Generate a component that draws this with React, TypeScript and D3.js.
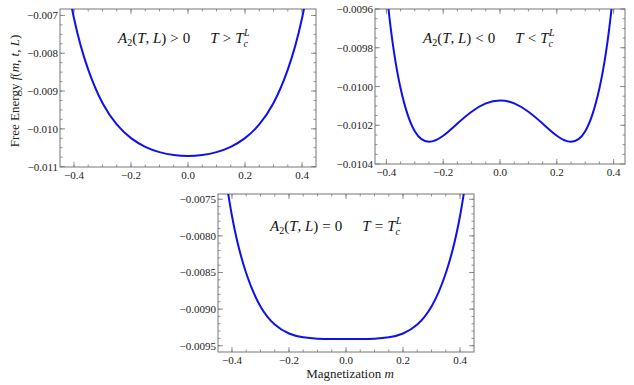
import React from 'react';
import * as d3 from 'd3';

// magnetization sample points
const mValues = [-0.45, -0.4, -0.35, -0.3, -0.25, -0.2, -0.15, -0.1, -0.05, 0, 0.05, 0.1, 0.15, 0.2, 0.25, 0.3, 0.35, 0.4, 0.45];
// free energy, A2 > 0 (T > Tc)
const fAbove = [-0.005002, -0.007076, -0.008436, -0.009318, -0.009884, -0.010247, -0.010476, -0.010616, -0.010692, -0.010716, -0.010692, -0.010616, -0.010476, -0.010247, -0.009884, -0.009318, -0.008436, -0.007076, -0.005002];
// free energy, A2 < 0 (T < Tc)
const fBelow = [-0.008496, -0.009491, -0.010009, -0.010231, -0.010285, -0.010254, -0.010191, -0.01013, -0.010087, -0.010072, -0.010087, -0.01013, -0.010191, -0.010254, -0.010285, -0.010231, -0.010009, -0.009491, -0.008496];
// free energy, A2 = 0 (T = Tc)
const fCritical = [-0.006449, -0.007728, -0.00851, -0.008964, -0.00921, -0.009333, -0.009386, -0.009404, -0.009408, -0.009408, -0.009408, -0.009404, -0.009386, -0.009333, -0.00921, -0.008964, -0.00851, -0.007728, -0.006449];

const xTicks = [-0.4, -0.2, 0, 0.2, 0.4];
const xTickLabels = ['\u22120.4', '\u22120.2', '0.0', '0.2', '0.4'];
const yTicks1 = [-0.011, -0.01, -0.009, -0.008, -0.007];
const yTickLabels1 = ['\u22120.011', '\u22120.010', '\u22120.009', '\u22120.008', '\u22120.007'];
const yTicks2 = [-0.0104, -0.0102, -0.01, -0.0098, -0.0096];
const yTickLabels2 = ['\u22120.0104', '\u22120.0102', '\u22120.0100', '\u22120.0098', '\u22120.0096'];
const yTicks3 = [-0.0095, -0.009, -0.0085, -0.008, -0.0075];
const yTickLabels3 = ['\u22120.0095', '\u22120.0090', '\u22120.0085', '\u22120.0080', '\u22120.0075'];

const SERIF = "'Liberation Serif', 'Times New Roman', serif";
const FRAME = '#777';

type PanelProps = {
  id: string;
  x0: number; x1: number; y0: number; y1: number;
  xDomain: [number, number]; yDomain: [number, number];
  values: number[];
  yTicks: number[]; yTickLabels: string[]; yMinorStep: number;
  rel: string; tx: number; ty: number;
};

function Panel(p: PanelProps) {
  const xs = d3.scaleLinear().domain(p.xDomain).range([p.x0, p.x1]);
  const ys = d3.scaleLinear().domain(p.yDomain).range([p.y1, p.y0]);
  const pts: [number, number][] = mValues.map((m, i) => [m, p.values[i]]);
  const line = d3.line<[number, number]>().x(d => xs(d[0])).y(d => ys(d[1])).curve(d3.curveNatural);
  const xMinor = d3.range(-0.45, 0.4501, 0.05).filter(v => v >= p.xDomain[0] && v <= p.xDomain[1]);
  const nY = Math.round((p.yDomain[1] - p.yDomain[0]) / p.yMinorStep) + 2;
  const yStart = Math.ceil(p.yDomain[0] / p.yMinorStep) * p.yMinorStep;
  const yMinor = d3.range(0, nY).map(i => yStart + i * p.yMinorStep).filter(v => v >= p.yDomain[0] - 1e-12 && v <= p.yDomain[1] + 1e-12);
  const big = 5, small = 2.5;
  return (
    <g>
      <defs>
        <clipPath id={p.id}>
          <rect x={p.x0} y={p.y0} width={p.x1 - p.x0} height={p.y1 - p.y0} />
        </clipPath>
      </defs>
      <rect x={p.x0} y={p.y0} width={p.x1 - p.x0} height={p.y1 - p.y0} fill="white" stroke={FRAME} strokeWidth={1} />
      {xMinor.map((v, i) => (
        <g key={'xm' + i} stroke={FRAME} strokeWidth={0.8}>
          <line x1={xs(v)} x2={xs(v)} y1={p.y1} y2={p.y1 - small} />
          <line x1={xs(v)} x2={xs(v)} y1={p.y0} y2={p.y0 + small} />
        </g>
      ))}
      {xTicks.map((v, i) => (
        <g key={'xt' + i}>
          <line x1={xs(v)} x2={xs(v)} y1={p.y1} y2={p.y1 - big} stroke={FRAME} strokeWidth={0.8} />
          <line x1={xs(v)} x2={xs(v)} y1={p.y0} y2={p.y0 + big} stroke={FRAME} strokeWidth={0.8} />
          <text x={xs(v)} y={p.y1 + 12} textAnchor="middle" fontFamily={SERIF} fontSize={11} fill="#222">{xTickLabels[i]}</text>
        </g>
      ))}
      {yMinor.map((v, i) => (
        <g key={'ym' + i} stroke={FRAME} strokeWidth={0.8}>
          <line x1={p.x0} x2={p.x0 + small} y1={ys(v)} y2={ys(v)} />
          <line x1={p.x1} x2={p.x1 - small} y1={ys(v)} y2={ys(v)} />
        </g>
      ))}
      {p.yTicks.map((v, i) => (
        <g key={'yt' + i}>
          <line x1={p.x0} x2={p.x0 + big} y1={ys(v)} y2={ys(v)} stroke={FRAME} strokeWidth={0.8} />
          <line x1={p.x1} x2={p.x1 - big} y1={ys(v)} y2={ys(v)} stroke={FRAME} strokeWidth={0.8} />
          <text x={p.x0 - 2} y={ys(v) + 4} textAnchor="end" fontFamily={SERIF} fontSize={11} fill="#222">{p.yTickLabels[i]}</text>
        </g>
      ))}
      <path d={line(pts) || ''} fill="none" stroke="#1010ee" strokeWidth={2} clipPath={`url(#${p.id})`} />
      <text x={p.tx} y={p.ty} fontFamily={SERIF} fontSize={15} fill="#111">
        <tspan fontStyle="italic">A</tspan>
        <tspan fontSize={10} dy={3}>2</tspan>
        <tspan dy={-3}>(</tspan>
        <tspan fontStyle="italic">T</tspan>
        <tspan>, </tspan>
        <tspan fontStyle="italic">L</tspan>
        <tspan>)</tspan>
        <tspan dx={4}>{p.rel}</tspan>
        <tspan dx={4}>0</tspan>
        <tspan dx={20} fontStyle="italic">T</tspan>
        <tspan dx={4}>{p.rel}</tspan>
        <tspan dx={4} fontStyle="italic">T</tspan>
        <tspan fontSize={10} fontStyle="italic" dy={4}>c</tspan>
        <tspan fontSize={10} fontStyle="italic" dx={-4} dy={-11}>L</tspan>
      </text>
    </g>
  );
}

export default function App() {
  return (
    <svg width={634} height={385} style={{ position: 'absolute', left: 0, top: 0, background: 'white' }}>
      <rect x={0} y={0} width={634} height={385} fill="white" />
      <Panel id="c1" x0={60} x1={316} y0={9} y1={167} xDomain={[-0.449, 0.449]} yDomain={[-0.01101, -0.00683]}
        values={fAbove} yTicks={yTicks1} yTickLabels={yTickLabels1} yMinorStep={0.00025} rel=">" tx={118} ty={43} />
      <Panel id="c2" x0={375} x1={625} y0={9} y1={164} xDomain={[-0.44, 0.44]} yDomain={[-0.0104, -0.0096]}
        values={fBelow} yTicks={yTicks2} yTickLabels={yTickLabels2} yMinorStep={0.00005} rel="<" tx={423} ty={43} />
      <Panel id="c3" x0={218} x1={474} y0={194} y1={352} xDomain={[-0.449, 0.449]} yDomain={[-0.009586, -0.007428]}
        values={fCritical} yTicks={yTicks3} yTickLabels={yTickLabels3} yMinorStep={0.0001} rel="=" tx={270} ty={231} />
      <text transform="translate(19,91) rotate(-90)" textAnchor="middle" fontFamily={SERIF} fontSize={13} fill="#222">
        Free Energy <tspan fontStyle="italic">f</tspan>(<tspan fontStyle="italic">m</tspan>, <tspan fontStyle="italic">t</tspan>, <tspan fontStyle="italic">L</tspan>)
      </text>
      <text x={350} y={378} textAnchor="middle" fontFamily={SERIF} fontSize={13} fill="#222">
        Magnetization <tspan fontStyle="italic">m</tspan>
      </text>
    </svg>
  );
}
